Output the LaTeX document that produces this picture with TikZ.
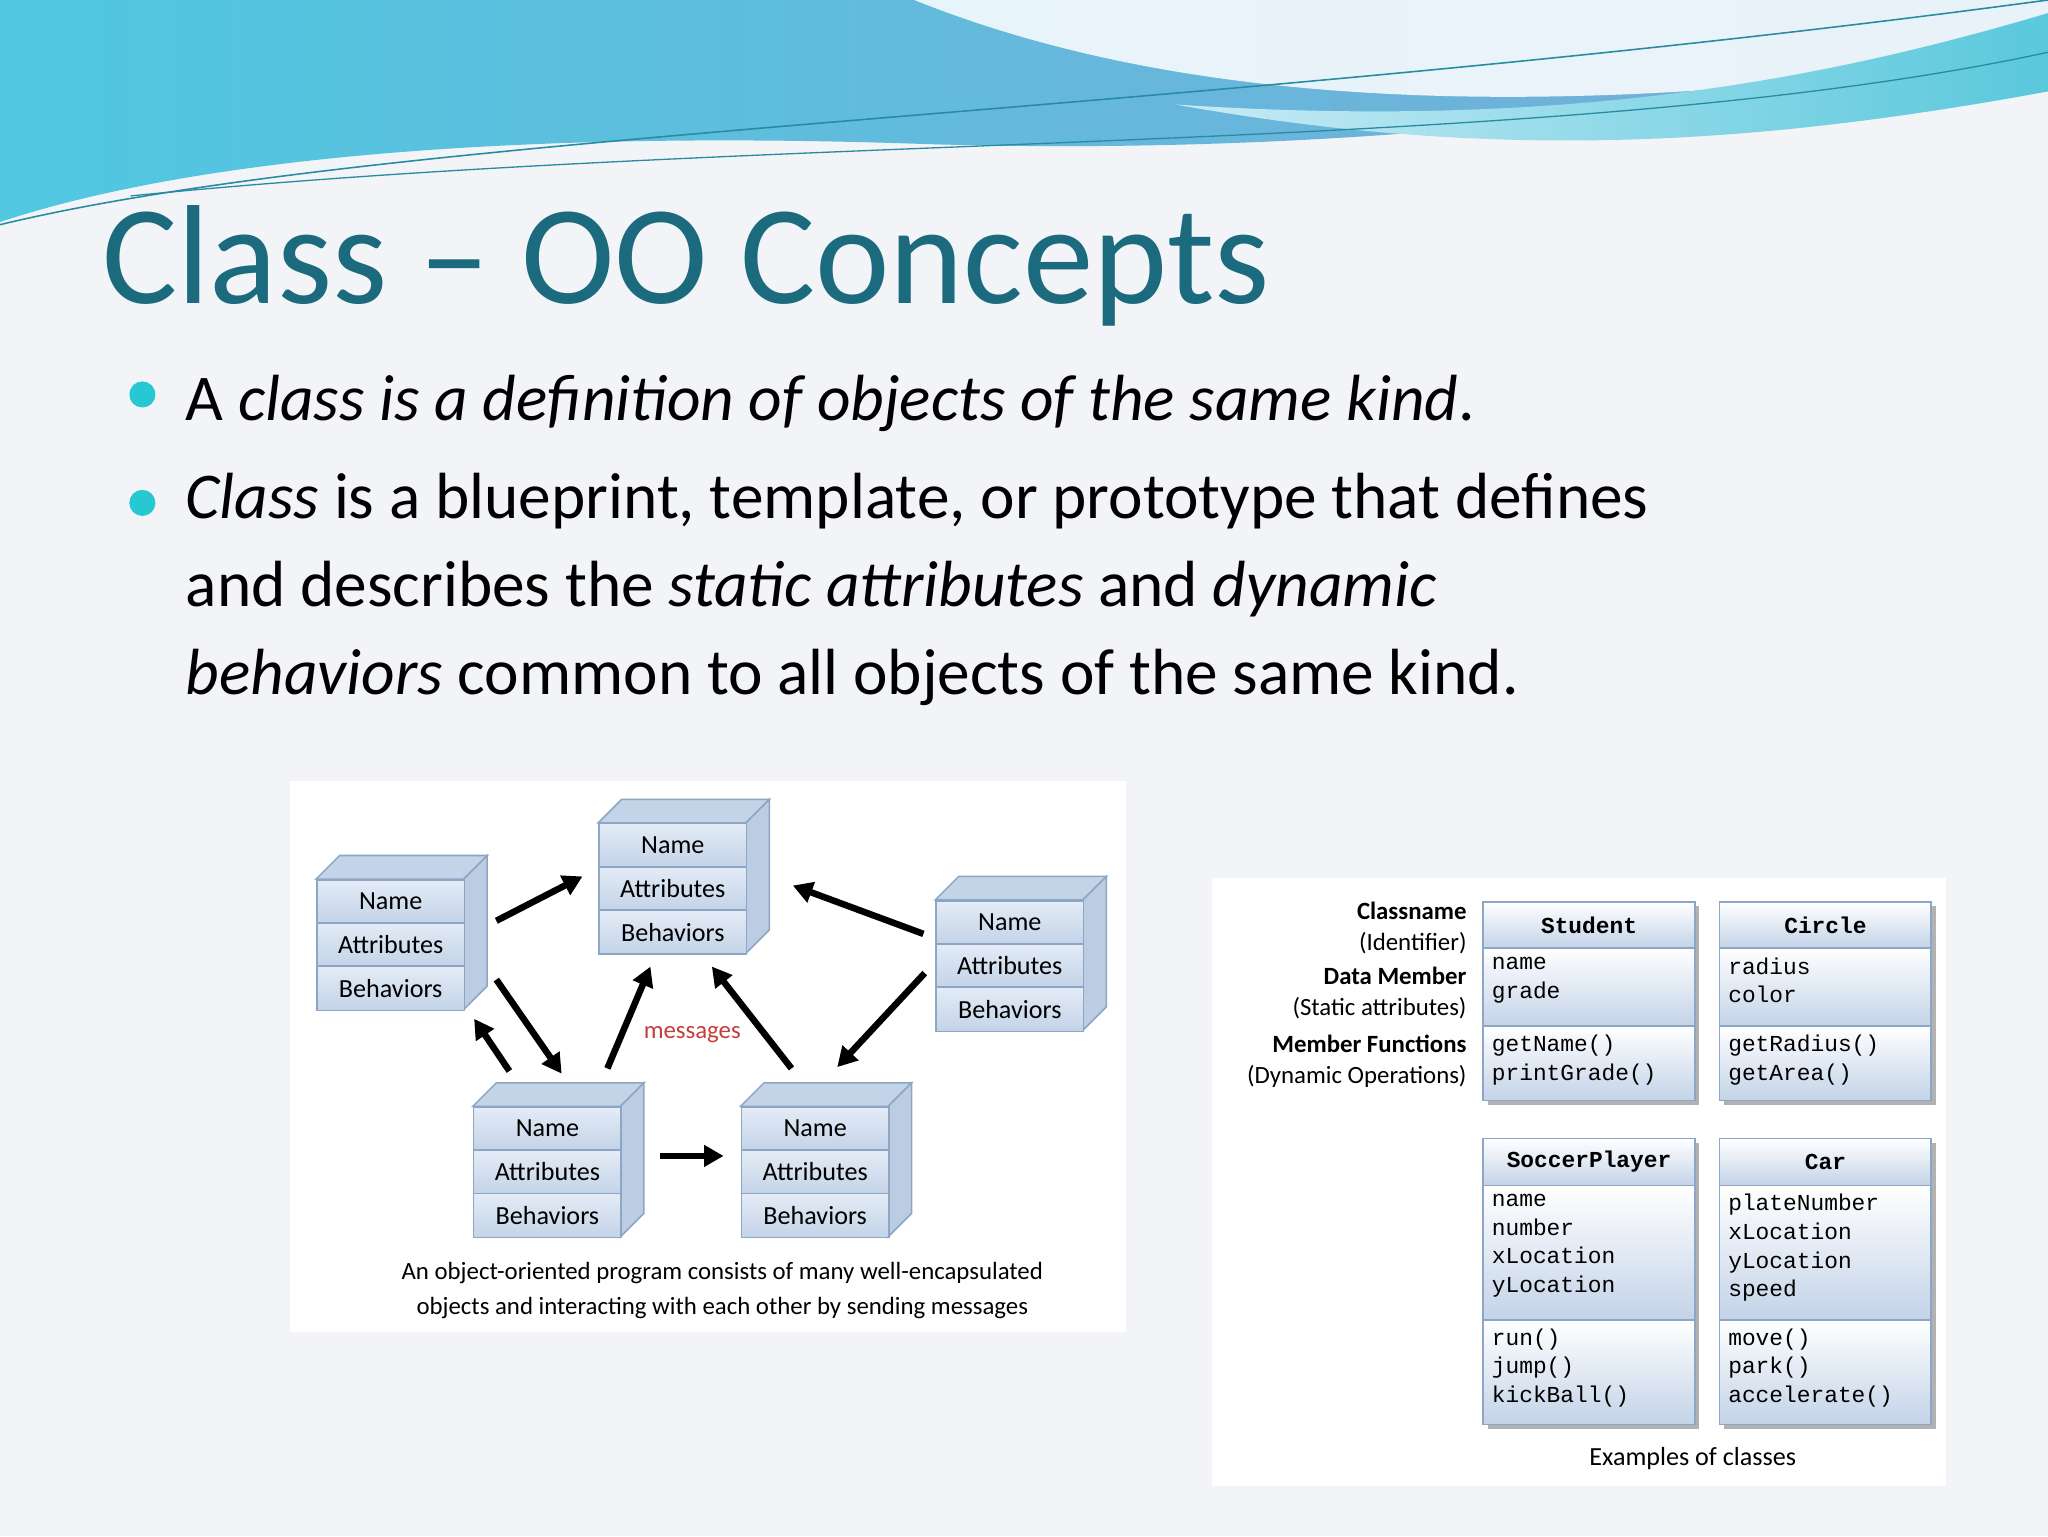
\documentclass[tikz,border=0pt]{standalone}
\usepackage{fontspec}
\setmainfont{Carlito}
\newfontfamily\monof{Liberation Mono}
\usetikzlibrary{arrows.meta,calc}
\definecolor{titlec}{HTML}{1B6A7E}
\definecolor{bord}{HTML}{8DA6C4}
\definecolor{lb}{HTML}{C3D3E8}
\definecolor{lb2}{HTML}{E4ECF6}
\definecolor{bg}{HTML}{F3F4F8}
\definecolor{wA}{HTML}{50C8E1}
\definecolor{wB}{HTML}{78AAD7}
\definecolor{wC}{HTML}{C8EBF5}
\definecolor{wD}{HTML}{5AC8DC}
\definecolor{wline}{HTML}{288CA0}
\definecolor{bul}{HTML}{28C8D2}
\definecolor{msgc}{HTML}{C83C3C}
\tikzset{
 front/.style={draw=bord,line width=1.2,top color=lb2,bottom color=lb,minimum width=113,minimum height=33,inner sep=0,anchor=north west,font=\fontsize{20}{22}\selectfont},
 face/.style={draw=bord,line width=1.2,fill=lb},
 arr/.style={line width=5,-{Triangle[length=15,width=16]}},
 lab/.style={anchor=east,inner sep=0,font=\fontsize{19}{21}\selectfont,align=right},
 cls/.style={draw=bord,line width=1.2,top color=white,bottom color=lb,anchor=north west,minimum width=162,inner sep=0},
 mono/.style={font=\monof\fontsize{17.5}{22}\selectfont,align=left,anchor=north west,inner sep=0},
}
\newcommand\obox[3]{%
 \fill[face] (#2,#3) -- (#2+18,#3-18) -- (#2+131,#3-18) -- (#2+113,#3) -- cycle;
 \fill[face,fill=lb!85!bord] (#2+113,#3) -- (#2+131,#3-18) -- (#2+131,#3+82) -- (#2+113,#3+100) -- cycle;
 \node[front] (#1n) at (#2,#3) {Name};
 \node[front] (#1a) at (#2,#3+33) {Attributes};
 \node[front,minimum height=34] (#1b) at (#2,#3+66) {Behaviors};
}
\newcommand\cbox[6]{% name x y h1 h2 h3
 \fill[gray!60] (#2+162,#3+4) rectangle (#2+166,#3+#4+#5+#6+4);
 \fill[gray!60] (#2+4,#3+#4+#5+#6) rectangle (#2+166,#3+#4+#5+#6+4);
 \node[cls,minimum height=#4] (#1h) at (#2,#3) {};
 \node[cls,minimum height=#5] (#1a) at (#2,#3+#4) {};
 \node[cls,minimum height=#6] (#1m) at (#2,#3+#4+#5) {};
}
\begin{document}
\begin{tikzpicture}[x=1pt,y=-1pt]
\useasboundingbox (0,0) rectangle (1568,1176);
\fill[bg] (0,0) rectangle (1568,1176);
% top waves
\shade[left color=wA,right color=wB]
 (0,0) -- (1568,0) -- (1568,30) .. controls (1300,90) and (1000,120) .. (700,110) .. controls (400,100) and (150,120) .. (0,170) -- cycle;
\fill[white,opacity=0.85] (700,0) .. controls (850,60) and (1100,110) .. (1568,40) -- (1568,0) -- cycle;
\shade[left color=wC,right color=wD]
 (900,80) .. controls (1200,100) and (1400,60) .. (1568,10) -- (1568,70) .. controls (1350,110) and (1150,125) .. (900,80) -- cycle;
\draw[wline,line width=1.2] (0,172) .. controls (300,100) and (900,90) .. (1568,0);
\draw[wline,line width=1] (100,150) .. controls (600,100) and (1200,120) .. (1568,40);
% title
\node[anchor=base west,inner sep=0,text=titlec,font=\fontsize{108}{120}\selectfont] (title) at (78,232) {Class – OO Concepts};
% bullets
\fill[bul] (109,302) circle (10) (109,385) circle (10);
\node[anchor=base west,inner sep=0,font=\fontsize{50}{67}\selectfont] (b1) at (142,322) {A \textit{class is a definition of objects of the same kind}.};
\node[anchor=north west,inner sep=0,align=left,font=\fontsize{50}{67.5}\selectfont] (b2) at (142,362)
 {\textit{Class} is a blueprint, template, or prototype that defines\\and describes the \textit{static attributes} and \textit{dynamic}\\\textit{behaviors} common to all objects of the same kind.};
% left panel
\fill[white] (222,598) rectangle (862,1020);
\obox{p}{242}{673}
\obox{q}{458}{630}
\obox{r}{716}{689}
\obox{s}{362}{847}
\obox{t}{567}{847}
\coordinate (a1) at (380,705); \coordinate (a2) at (446,671);
\coordinate (c1) at (707,715); \coordinate (c2) at (607,678);
\coordinate (d1) at (708,745); \coordinate (d2) at (641,817);
\coordinate (e1) at (465,818); \coordinate (e2) at (498,740);
\coordinate (f1) at (606,818); \coordinate (f2) at (545,740);
\coordinate (g1) at (380,750); \coordinate (g2) at (430,822);
\coordinate (h1) at (390,820); \coordinate (h2) at (363,780);
\coordinate (i1) at (505,885); \coordinate (i2) at (554,885);
\foreach \u/\v in {a1/a2,c1/c2,d1/d2,e1/e2,f1/f2,g1/g2,h1/h2,i1/i2} \draw[arr] (\u) -- (\v);
\node[text=msgc,font=\fontsize{19}{21}\selectfont] (msg) at (530,792) {messages};
\node[align=center,font=\fontsize{19}{27}\selectfont] (cap1) at (553,988) {An object-oriented program consists of many well-encapsulated\\objects and interacting with each other by sending messages};
% right panel
\fill[white] (928,672) rectangle (1490,1138);
\node[lab,font=\bfseries\fontsize{19}{21}\selectfont] (l1) at (1123,697) {Classname};
\node[lab] (l2) at (1123,722) {(Identifier)};
\node[lab,font=\bfseries\fontsize{19}{21}\selectfont] (l3) at (1123,747) {Data Member};
\node[lab] (l4) at (1123,772) {(Static attributes)};
\node[lab,font=\bfseries\fontsize{19}{21}\selectfont] (l5) at (1123,799) {Member Functions};
\node[lab] (l6) at (1123,824) {(Dynamic Operations)};
\cbox{st}{1135}{690}{35}{60}{57}
\cbox{ci}{1316}{690}{35}{60}{57}
\cbox{so}{1135}{871}{36}{103}{80}
\cbox{ca}{1316}{871}{36}{103}{80}
\node[font=\monof\bfseries\fontsize{17.5}{20}\selectfont] at (sth) {Student};
\node[font=\monof\bfseries\fontsize{17.5}{20}\selectfont] at (cih) {Circle};
\node[font=\monof\bfseries\fontsize{17.5}{20}\selectfont] at (soh) {SoccerPlayer};
\node[font=\monof\bfseries\fontsize{17.5}{20}\selectfont] at (cah) {Car};
\node[mono] at ($(sta.north west)+(7,8)$) {name\\grade};
\node[mono] at ($(cia.north west)+(7,8)$) {radius\\color};
\node[mono] at ($(stm.north west)+(7,7)$) {getName()\\printGrade()};
\node[mono] at ($(cim.north west)+(7,7)$) {getRadius()\\getArea()};
\node[mono] at ($(soa.north west)+(7,7)$) {name\\number\\xLocation\\yLocation};
\node[mono] at ($(caa.north west)+(7,7)$) {plateNumber\\xLocation\\yLocation\\speed};
\node[mono] at ($(som.north west)+(7,7)$) {run()\\jump()\\kickBall()};
\node[mono] at ($(cam.north west)+(7,7)$) {move()\\park()\\accelerate()};
\node[font=\fontsize{20}{22}\selectfont] (ex) at (1296,1117) {Examples of classes};
\end{tikzpicture}
\end{document}
